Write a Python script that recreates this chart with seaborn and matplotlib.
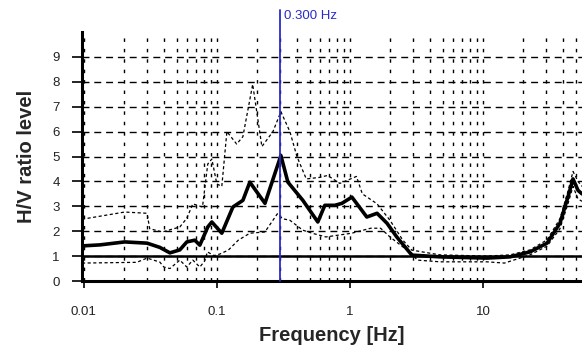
import matplotlib
matplotlib.use("Agg")
import matplotlib.pyplot as plt
import pandas as pd
import seaborn as sns
from matplotlib.ticker import LogLocator, FixedLocator, NullFormatter

# H/V curve (mean)
freq_mean = [0.0097, 0.0132, 0.0203, 0.0299, 0.0373, 0.0444, 0.0527, 0.0595, 0.0683,
             0.0745, 0.0855, 0.0917, 0.109, 0.132, 0.157, 0.177, 0.230, 0.303, 0.342,
             0.443, 0.574, 0.648, 0.771, 0.871, 1.035, 1.34, 1.60, 1.90, 2.25, 2.92,
             4.75, 10.7, 16.0, 22.6, 30.3, 37.9, 43.5, 47.5, 51.8, 55.5]
hv_mean = [1.41, 1.45, 1.57, 1.52, 1.35, 1.13, 1.25, 1.57, 1.64,
           1.44, 2.17, 2.37, 1.92, 2.97, 3.24, 3.97, 3.12, 5.04, 3.97,
           3.24, 2.37, 3.04, 3.04, 3.12, 3.37, 2.57, 2.72, 2.32, 1.77, 1.04,
           0.97, 0.92, 0.97, 1.17, 1.52, 2.32, 3.37, 4.10, 3.64, 3.50]

# mean + std
freq_up = [0.0097, 0.0203, 0.0299, 0.0313, 0.039, 0.0527, 0.0595, 0.066, 0.078,
           0.0855, 0.0917, 0.100, 0.109, 0.119, 0.141, 0.157, 0.186, 0.218, 0.264,
           0.303, 0.354, 0.40, 0.47, 0.59, 0.68, 0.84, 1.12, 1.24, 1.60, 2.0, 2.5,
           2.92, 4.75, 10.7, 16.0, 22.6, 30.3, 37.9, 43.5, 47.5, 51.8, 55.5]
hv_up = [2.48, 2.77, 2.72, 2.10, 1.97, 2.17, 2.52, 3.10, 2.97,
         4.70, 4.90, 3.90, 3.80, 6.00, 5.50, 5.80, 7.90, 5.40, 6.00,
         6.80, 6.00, 5.00, 4.10, 4.16, 4.24, 3.92, 4.20, 3.50, 3.10, 2.44, 1.64,
         1.24, 1.05, 1.00, 1.05, 1.25, 1.65, 2.50, 3.60, 4.40, 4.00, 3.80]

# mean - std
freq_lo = [0.0097, 0.0250, 0.0299, 0.0373, 0.040, 0.0444, 0.0527, 0.0595, 0.066,
           0.0745, 0.081, 0.085, 0.095, 0.105, 0.122, 0.145, 0.177, 0.230, 0.285,
           0.313, 0.354, 0.443, 0.52, 0.66, 1.035, 1.43, 1.70, 2.0, 2.5, 2.92,
           3.2, 4.75, 10.7, 14.5, 22.6, 30.3, 37.9, 43.5, 47.5, 51.8, 55.5]
hv_lo = [0.72, 0.75, 0.92, 0.76, 0.56, 0.50, 0.84, 0.56, 0.84,
         0.56, 0.80, 1.17, 1.02, 1.08, 1.24, 1.64, 1.92, 1.97, 2.70,
         2.50, 2.44, 2.04, 1.92, 1.77, 1.92, 2.12, 2.12, 1.77, 1.37, 1.12,
         0.84, 0.77, 0.77, 0.72, 1.05, 1.40, 2.10, 3.10, 3.80, 3.30, 3.20]

peak_freq = 0.300
x_ticks = [0.01, 0.1, 1, 10]
x_labels = ["0.01", "0.1", "1", "10"]
y_ticks = [0, 1, 2, 3, 4, 5, 6, 7, 8, 9]

sns.set_style("white")
plt.rcParams['font.family'] = ['Liberation Sans', 'DejaVu Sans']

fig = plt.figure(figsize=(5.82, 3.52), dpi=100)
ax = fig.add_axes([0.1409, 0.2017, 0.8591, 0.7073])

df_mean = pd.DataFrame({"f": freq_mean, "hv": hv_mean})
df_up = pd.DataFrame({"f": freq_up, "hv": hv_up})
df_lo = pd.DataFrame({"f": freq_lo, "hv": hv_lo})

sns.lineplot(data=df_up, x="f", y="hv", color="black", linewidth=0.9,
             linestyle=(0, (2.5, 2)), ax=ax)
sns.lineplot(data=df_lo, x="f", y="hv", color="black", linewidth=0.9,
             linestyle=(0, (2.5, 2)), ax=ax)
sns.lineplot(data=df_mean, x="f", y="hv", color="black", linewidth=2.6, ax=ax)

ax.set_xscale("log")
ax.set_xlim(0.0097, 55.5)
ax.set_ylim(0, 10)

# reference level H/V = 1
ax.axhline(1, color="black", linewidth=1.8, zorder=3)

# peak frequency marker
ax.plot([peak_freq, peak_freq], [0, 10.9], color="#2b2bc8", linewidth=1.3,
        clip_on=False, zorder=4)
ax.text(0.318, 10.65, "0.300 Hz", color="#2b2bc8", fontsize=9.5,
        ha="left", va="center")

ax.xaxis.set_major_locator(FixedLocator(x_ticks))
ax.set_xticklabels(x_labels)
ax.xaxis.set_minor_locator(LogLocator(base=10, subs=[2, 3, 4, 5, 6, 7, 8, 9]))
ax.xaxis.set_minor_formatter(NullFormatter())
ax.set_yticks(y_ticks)

ax.grid(axis="x", which="both", color="black", linewidth=1.0,
        linestyle=(0, (2.5, 5)))
ax.grid(axis="y", which="major", color="black", linewidth=1.0,
        linestyle=(0, (5, 3.5)))

for s in ["top", "right"]:
    ax.spines[s].set_visible(False)
for s in ["left", "bottom"]:
    ax.spines[s].set_color("black")
    ax.spines[s].set_linewidth(2.2)

ax.tick_params(axis="x", which="major", direction="out", length=5, width=1.2,
               pad=13, labelsize=9.5, colors="black", labelcolor="#222222", bottom=True)
ax.tick_params(axis="x", which="minor", length=0)
ax.tick_params(axis="y", direction="out", length=7, width=1.2, pad=9,
               labelsize=9.5, colors="black", labelcolor="#222222", left=True)

ax.set_xlabel("Frequency [Hz]", fontsize=14.5, fontweight="bold", labelpad=6)
ax.set_ylabel("H/V ratio level", fontsize=14.5, fontweight="bold", labelpad=12)

fig.savefig("out.png", dpi=100)
